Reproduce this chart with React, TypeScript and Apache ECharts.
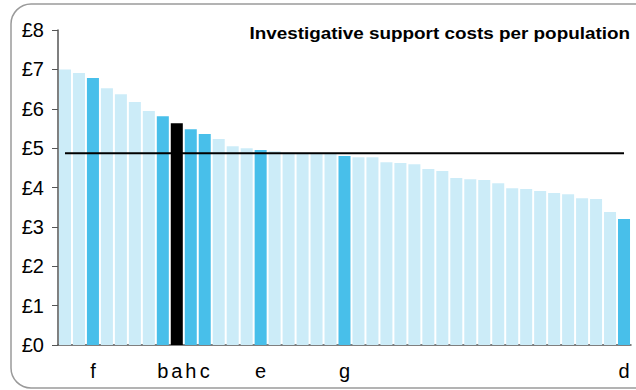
import React, { useEffect, useRef } from "react";
import * as echarts from "echarts";

const values = [
  7.0, 6.91, 6.78, 6.52, 6.37, 6.17, 5.94, 5.81, 5.63, 5.48, 5.36, 5.23, 5.05, 5.0, 4.95,
  4.92, 4.88, 4.87, 4.86, 4.85, 4.8, 4.77, 4.77, 4.64, 4.62, 4.59, 4.47, 4.42, 4.24, 4.21,
  4.19, 4.11, 3.98, 3.96, 3.91, 3.86, 3.83, 3.73, 3.71, 3.38, 3.2,
];
const labels = [
  "", "", "f", "", "", "", "", "b", "a", "h", "c", "", "", "", "e",
  "", "", "", "", "", "g", "", "", "", "", "", "", "", "", "",
  "", "", "", "", "", "", "", "", "", "", "d",
];
// highlight kind: 0 = other, 1 = comparator, 2 = subject
const kinds = [
  0, 0, 1, 0, 0, 0, 0, 1, 2, 1, 1, 0, 0, 0, 1,
  0, 0, 0, 0, 0, 1, 0, 0, 0, 0, 0, 0, 0, 0, 0,
  0, 0, 0, 0, 0, 0, 0, 0, 0, 0, 1,
];
const average = 4.87;
const yTicks = [0, 1, 2, 3, 4, 5, 6, 7, 8];
const title = "Investigative support costs per population";

const colors = ["#CCECF8", "#48BFEA", "#000000"];
const FONT = "Liberation Sans, Arial, sans-serif";

export default function App() {
  const ref = useRef<HTMLDivElement>(null);
  useEffect(() => {
    if (!ref.current) return;
    const chart = echarts.init(ref.current, null, { renderer: "svg" });
    const cats = values.map((_, i) => String(i));
    chart.setOption({
      animation: false,
      grid: { left: 58, right: 5, top: 30, bottom: 45, containLabel: false },
      graphic: [
        {
          type: "rect",
          shape: { x: 11, y: 4, width: 650, height: 384, r: 20 },
          style: { fill: "none", stroke: "#9a9a9a", lineWidth: 1.5 },
          z: -1,
        },
        {
          type: "text",
          x: 630,
          y: 26,
          scaleX: 1.18,
          style: {
            text: title,
            font: "bold 16px " + FONT,
            fill: "#000",
            align: "right",
            verticalAlign: "top",
          },
        },
      ],
      xAxis: {
        type: "category",
        data: cats,
        axisLine: { lineStyle: { color: "#555", width: 1.5 } },
        axisTick: { show: false },
        axisLabel: {
          interval: 0,
          margin: 16,
          fontSize: 20,
          fontFamily: FONT,
          color: "#000",
          formatter: (_v: string, i: number) => labels[i],
        },
      },
      yAxis: {
        type: "value",
        min: yTicks[0],
        max: yTicks[yTicks.length - 1],
        interval: 1,
        splitLine: { show: false },
        axisLine: { show: true, lineStyle: { color: "#555", width: 1.5 } },
        axisTick: { show: true, length: 6, lineStyle: { color: "#555" } },
        axisLabel: {
          margin: 14,
          fontSize: 20,
          fontFamily: FONT,
          color: "#000",
          formatter: (v: number) => "£" + v,
        },
      },
      series: [
        {
          type: "bar",
          barCategoryGap: "14%",
          data: values.map((v, i) => ({
            value: v,
            itemStyle: { color: colors[kinds[i]] },
          })),
        },
        {
          type: "line",
          data: values.map(() => average),
          symbol: "none",
          lineStyle: { color: "#000", width: 2 },
          z: 5,
        },
      ],
    });
    return () => chart.dispose();
  }, []);
  return (
    <div
      ref={ref}
      style={{ position: "fixed", left: 0, top: 0, width: 636, height: 390, background: "#fff" }}
    />
  );
}
